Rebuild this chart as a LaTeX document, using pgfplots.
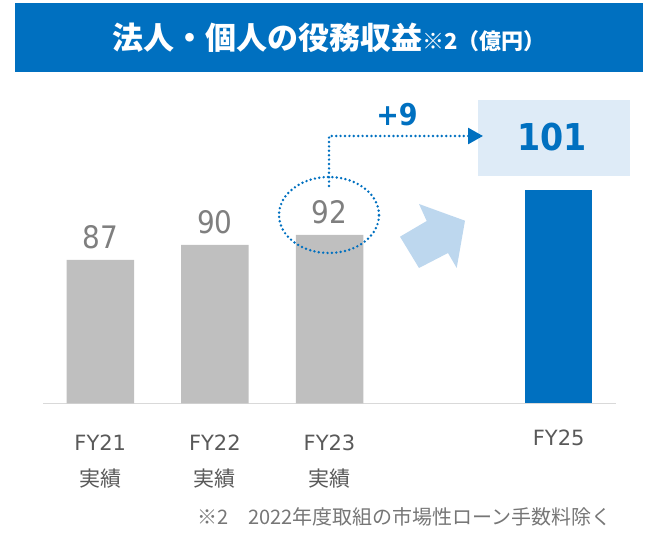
\documentclass[border=0pt]{standalone}
\usepackage{fontspec}
\setmainfont{Noto Sans CJK JP}
\newfontfamily\dv{DejaVu Sans}
\newfontfamily\dvn{DejaVu Sans}[FakeStretch=0.9]
\usepackage{pgfplots}
\pgfplotsset{compat=1.18}
\usetikzlibrary{arrows.meta,calc}
\definecolor{mainblue}{HTML}{0070C0}
\definecolor{bargray}{HTML}{BFBFBF}
\definecolor{labelgray}{HTML}{7F7F7F}
\definecolor{tickgray}{HTML}{595959}
\definecolor{axisgray}{HTML}{D9D9D9}
\definecolor{arrowblue}{HTML}{BDD7EE}
\definecolor{boxblue}{HTML}{DEEBF7}
\definecolor{footgray}{HTML}{767676}
\begin{document}
\begin{tikzpicture}[x=1pt,y=1pt]
\begin{axis}[
  scale only axis, width=573pt, height=213.3pt,
  xmin=-0.5, xmax=4.5, ymin=58.33, ymax=101,
  axis x line=bottom, axis y line=none,
  axis line style={draw=axisgray, line width=1.5pt, -},
  xtick={0,1,2,4},
  xticklabels={{{\dv FY21}\\実績},{{\dv FY22}\\実績},{{\dv FY23}\\実績},{\raisebox{0pt}[\dimexpr\height-5pt\relax]{\dv FY25}}},
  major tick length=0pt,
  xticklabel style={anchor=north, inner sep=0pt, yshift=-31.7pt, align=center, text=tickgray, font=\fontsize{21}{36}\selectfont},
  ytick=\empty,
  /pgf/number format/assume math mode=true,
  clip=false,
]
\addplot[ybar, bar width=67.5pt, bar shift=0pt, fill=bargray, draw=none,
  nodes near coords,
  nodes near coords style={anchor=south, inner sep=0pt, yshift=11pt, text=labelgray, font=\dvn\fontsize{31}{31}\selectfont}]
  coordinates {(0,87) (1,90) (2,92)};
\addplot[ybar, bar width=67.5pt, bar shift=0pt, fill=mainblue, draw=none]
  coordinates {(4,101)};
\coordinate (base) at (axis cs:-0.5,58.33);
\end{axis}
\begin{scope}[shift={($(base)+(-43,-129.7)$)}]
% title banner
\fill[mainblue] (15,461) rectangle (643,530);
\node[text=white, inner sep=0pt] at (329,495) {{\fontsize{31}{31}\selectfont\bfseries 法人・個人の役務収益}{\fontsize{22}{22}\selectfont\bfseries ※2}{\fontsize{22}{22}\selectfont\bfseries （億円）}};
% big light arrow
\fill[arrowblue] (400,296.3) -- (426.7,312) -- (419,329) -- (465,312.3) -- (456.7,265) -- (448,280) -- (419,265) -- cycle;
% target box
\fill[boxblue] (478,357) rectangle (630,433);
\node[text=mainblue, inner sep=0pt] at (552,396) {\dvn\bfseries\fontsize{37}{37}\selectfont 101};
\node[text=mainblue, inner sep=0pt] at (397,418) {\dvn\bfseries\fontsize{30}{30}\selectfont +9};
% dotted connectors
\draw[mainblue, line width=2.7pt, dash pattern=on 0pt off 4.4pt, line cap=round, -{Triangle[length=15pt,width=16pt]}] (329,347) -- (329,397) -- (483,397);
\draw[mainblue, line width=2.7pt, dash pattern=on 0pt off 4.4pt, line cap=round] (329,318) ellipse [x radius=50, y radius=38];
% footnote
\node[anchor=west, inner sep=0pt, text=footgray] at (197,16) {\fontsize{20}{20}\selectfont ※2\hspace{1em}2022年度取組の市場性ローン手数料除く};
\pgfresetboundingbox
\path[use as bounding box] (0,0) rectangle (648,533);
\end{scope}
\end{tikzpicture}
\end{document}
